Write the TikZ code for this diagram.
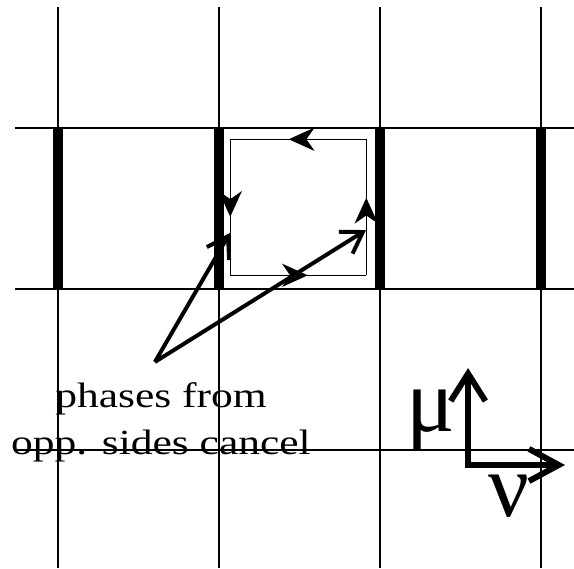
\documentclass[tikz,border=0pt]{standalone}
\usepackage{fontspec}
\setmainfont{Liberation Serif}
\usetikzlibrary{arrows.meta,decorations.markings}

\begin{document}
\begin{tikzpicture}[x=2cm,y=2cm,
    gridline/.style={line width=.4pt},
    bar/.style={line width=3.5pt},
    loopedge/.style={line width=.45pt,postaction={decorate},
      decoration={markings,mark=at position .57 with {\arrow{Stealth[length=.32cm,width=.29cm,inset=.1cm]}}}},
    pointer/.style={line width=1.4pt,-{Straight Barb[length=.25cm,width=.32cm]}},
    axis/.style={line width=2.1pt,{Straight Barb[length=.34cm,width=.43cm]}-{Straight Barb[length=.37cm,width=.4cm]}}]
  \useasboundingbox (-.36,-1.733) rectangle (3.205,1.795);
  % lattice
  \foreach \i in {0,...,3}
    \draw[gridline] (\i,1.752) -- (\i,-1.733);
  \foreach \j in {-1,0,1}
    \draw[gridline] (-.267,\j) -- (3.205,\j);
  % plaquette
  \coordinate (br) at (1.915,.085);
  \coordinate (tr) at (1.915,.93);
  \coordinate (tl) at (1.07,.93);
  \coordinate (bl) at (1.07,.085);
  \draw[loopedge] (br) -- (tr);
  \draw[loopedge] (tr) -- (tl);
  \draw[loopedge] (tl) -- (bl);
  \draw[loopedge] (bl) -- (br);
  % label and pointers
  \node[font=\fontsize{12.5}{16.5}\selectfont,align=center,xscale=1.23,anchor=base] (note) at (.64,-1.025) {phases from\\opp. sides cancel};
  \coordinate (apex) at (.602,-.453);
  \coordinate (lefttip) at (1.068,.348);
  \coordinate (righttip) at (1.913,.366);
  \draw[pointer] (apex) -- (lefttip);
  \draw[pointer] (apex) -- (righttip);
  % thick links
  \foreach \i in {0,...,3}
    \draw[bar] (\i,0) -- (\i,1);
  % directions
  \coordinate (corner) at (2.547,-1.093);
  \coordinate (mutip) at (2.547,-.491);
  \coordinate (nutip) at (3.149,-1.093);
  \draw[axis] (mutip) -- (corner) -- (nutip);
  \node[font=\fontsize{32}{32}\selectfont,anchor=base] (mu) at (2.317,-.888) {μ};
  \node[font=\fontsize{32}{32}\selectfont,anchor=base] (nu) at (2.801,-1.416) {ν};
\end{tikzpicture}
\end{document}
